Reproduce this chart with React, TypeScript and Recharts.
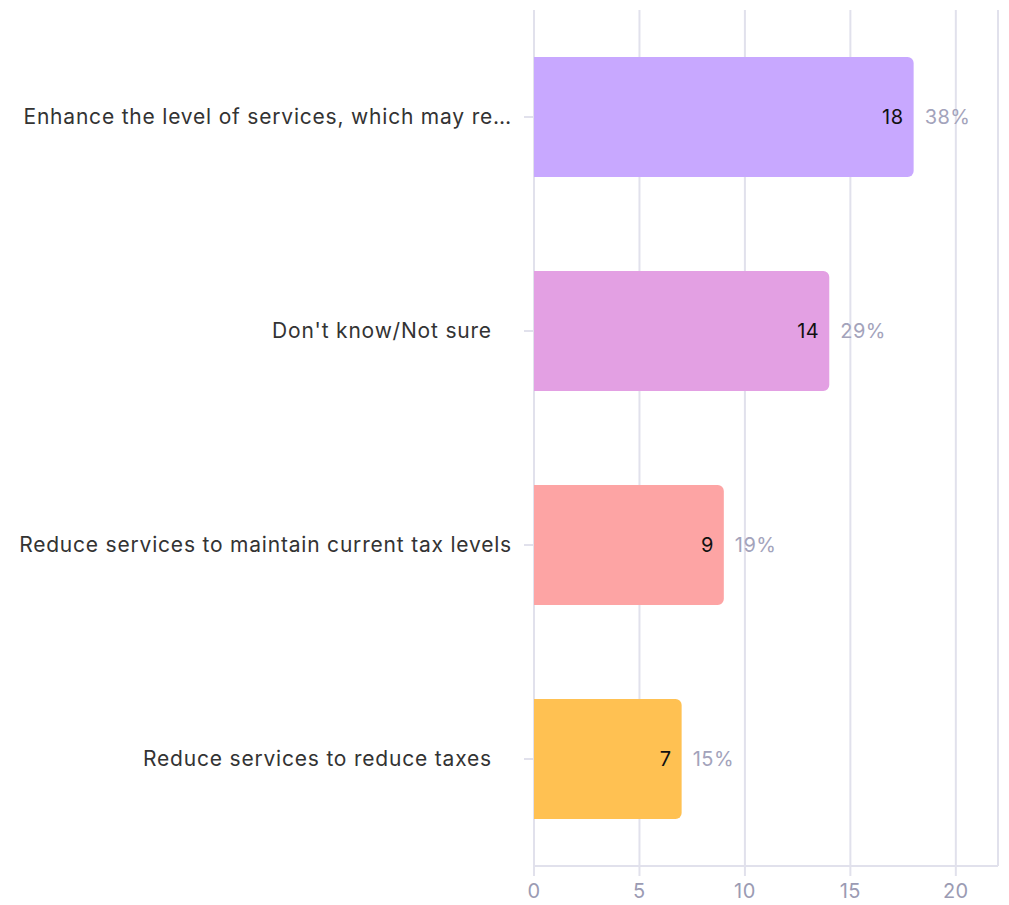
import { Bar, BarChart, CartesianGrid, Cell, LabelList, ReferenceLine, XAxis, YAxis } from 'recharts'

const categories = [
  'Enhance the level of services, which may re…',
  "Don't know/Not sure\u00a0\u00a0\u00a0",
  'Reduce services to maintain current tax levels',
  'Reduce services to reduce taxes\u00a0\u00a0\u00a0',
]
const counts = [18, 14, 9, 7]
const shares = ['38%', '29%', '19%', '15%']
const colors = ['#c8a8ff', '#e3a0e3', '#fda4a4', '#ffc152']
const xTicks = [0, 5, 10, 15, 20]

const data = categories.map((name, i) => ({ name, value: counts[i], share: shares[i] }))

const FONT = 'Inter, sans-serif'
const GRID = '#e1e1ec'

function ValueLabel(props: any) {
  const { x, y, width, height, index } = props
  const end = x + width
  const cy = y + height / 2
  return (
    <g fontFamily={FONT} fontSize={20} letterSpacing={0.5}>
      <text x={end - 10} y={cy} textAnchor="end" dominantBaseline="central" fill="#111">
        {counts[index]}
      </text>
      <text x={end + 11} y={cy} textAnchor="start" dominantBaseline="central" fill="#a3a3bb">
        {shares[index]}
      </text>
    </g>
  )
}

export default function App() {
  return (
    <div style={{ position: 'absolute', left: 0, top: 0, background: '#fff' }}>
      <BarChart
        width={1009}
        height={905}
        data={data}
        layout="vertical"
        margin={{ top: 10, right: 11, bottom: 5, left: 0 }}
        barSize={120}
      >
        <CartesianGrid stroke={GRID} strokeWidth={2} horizontal={false} />
        <XAxis
          type="number"
          domain={[0, 22]}
          ticks={xTicks}
          height={34}
          stroke={GRID}
          strokeWidth={2}
          tickSize={10}
          tickMargin={8}
          tick={{ fill: '#9b9bb3', fontSize: 20, fontFamily: FONT, letterSpacing: 0.5 }}
        />
        <YAxis
          type="category"
          dataKey="name"
          width={534}
          axisLine={false}
          tickSize={10}
          tickMargin={12}
          tickLine={{ stroke: GRID, strokeWidth: 2 }}
          tick={{ fill: '#333', fontSize: 21, fontFamily: FONT, letterSpacing: 0.8 }}
          interval={0}
        />
        <ReferenceLine x={22} stroke={GRID} strokeWidth={2} />
        <Bar dataKey="value" radius={[0, 6, 6, 0]} isAnimationActive={false}>
          {data.map((d, i) => (
            <Cell key={d.name} fill={colors[i]} />
          ))}
          <LabelList dataKey="value" content={<ValueLabel />} />
        </Bar>
      </BarChart>
    </div>
  )
}
